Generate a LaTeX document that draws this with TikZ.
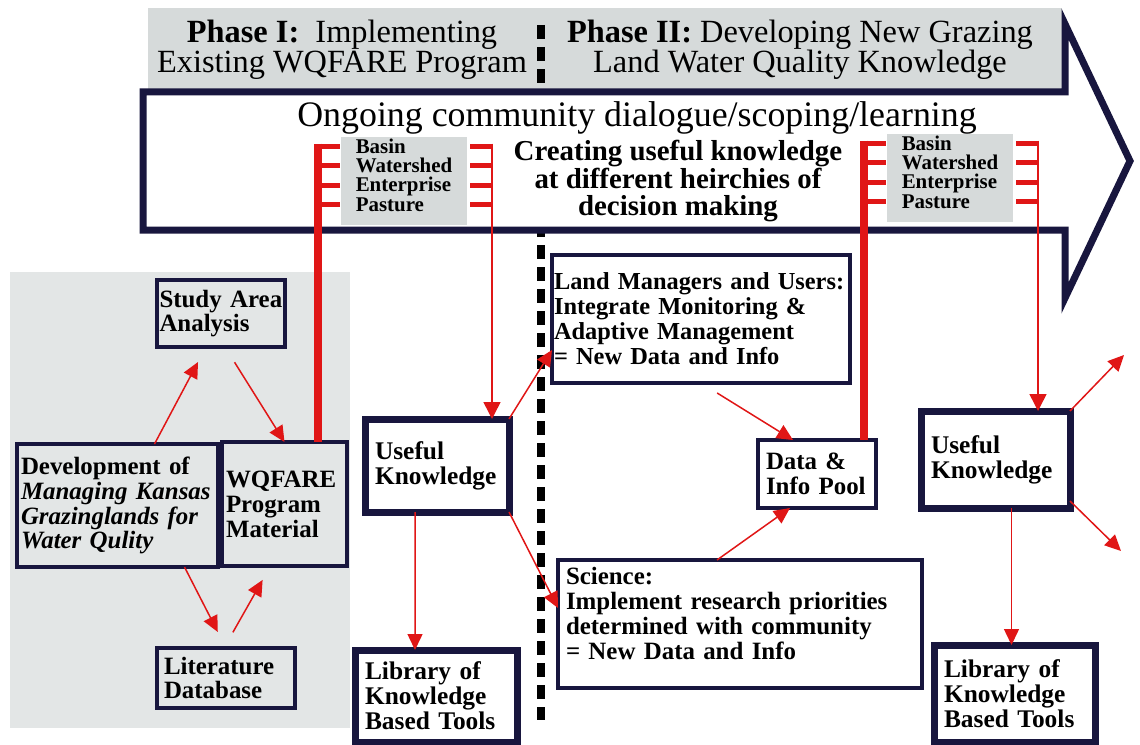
\documentclass[tikz,border=0pt]{standalone}
\usepackage{fontspec}
\setmainfont{Liberation Serif}
\usetikzlibrary{arrows.meta}
\definecolor{navy}{RGB}{24,22,62}
\definecolor{lred}{RGB}{224,22,22}
\definecolor{bangray}{RGB}{214,218,218}
\definecolor{pangray}{RGB}{227,230,230}
\begin{document}
\begin{tikzpicture}[x=1bp,y=-1bp,
    box/.style={draw=navy,line width=3.5bp,outer sep=0pt,anchor=north west,align=left,inner sep=4bp,font=\bfseries\fontsize{25}{25}\selectfont},
    bigbox/.style={box,line width=7bp,inner xsep=10bp,font=\bfseries\fontsize{25.5}{25}\selectfont},
    lvl/.style={fill=bangray,outer sep=0pt,anchor=north west,align=left,inner xsep=11bp,inner ysep=0pt,minimum width=126bp,minimum height=88bp,font=\bfseries\fontsize{21}{19.5}\selectfont},
    arr/.style={draw=lred,line width=1.5bp,-{Triangle[length=16bp,width=15bp]}},
    wire/.style={draw=lred,line width=1.5bp,-{Triangle[length=17bp,width=17bp]}},
    bar/.style={draw=lred,line width=8bp},
    tick/.style={draw=lred,line width=5bp}]
    \useasboundingbox (0,0) rectangle (1140,745);
    \fill[pangray] (10,272) rectangle (350,728);
    \fill[bangray] (148,8) rectangle (1062,92);
    \node[font=\fontsize{32.5}{30}\selectfont,align=center,inner sep=0pt] (ph1) at (342,50) {\textbf{Phase I:}\ \ Implementing\\Existing WQFARE Program};
    \node[font=\fontsize{32.5}{30}\selectfont,align=center,inner sep=0pt] (ph2) at (800,50) {\textbf{Phase II:} Developing New Grazing\\Land Water Quality Knowledge};
    \draw[line width=8bp,dash pattern=on 14bp off 8bp] (541,25) -- (541,720);
    \draw[navy,fill=white,line width=7bp] (143,92) -- (1065,92) -- (1065,24) -- (1130,161) -- (1065,298) -- (1065,230) -- (143,230) -- cycle;
    \node[font=\fontsize{36}{36}\selectfont,anchor=base,inner sep=0pt] (talk) at (637,126) {Ongoing community dialogue/scoping/learning};
    \node[font=\bfseries\fontsize{29}{26.5}\selectfont,align=center,anchor=base,inner sep=0pt] (make) at (678,215) {Creating useful knowledge\\at different heirchies of\\decision making};
    \node[lvl] (lv1) at (341,137) {Basin\\Watershed\\Enterprise\\Pasture\rule[-12bp]{0pt}{0pt}};
    \node[lvl] (lv2) at (887,134) {Basin\\Watershed\\Enterprise\\Pasture\rule[-12bp]{0pt}{0pt}};

    \node[box,inner xsep=2.5bp,minimum width=128bp,text width=123bp,minimum height=67bp] (study) at (157,280) {Study Area\\Analysis};
    \node[box,minimum width=201bp,text width=193bp,minimum height=123bp] (dev) at (17,444) {Development of\\\textit{Managing Kansas}\\\textit{Grazinglands for}\\\textit{Water Qulity}};
    \node[box,minimum width=125bp,text width=117bp,minimum height=124bp] (wqfare) at (222,442) {WQFARE\\Program\\Material};
    \node[box,inner xsep=7bp,minimum width=138bp,text width=124bp,minimum height=60bp] (lit) at (157,648) {Literature\\Database};
    \node[bigbox,minimum width=144bp,text width=124bp,minimum height=93bp] (ukl) at (365,419) {Useful\\Knowledge};
    \node[bigbox,minimum width=162bp,text width=142bp,minimum height=92bp] (libl) at (355,650) {Library of\\Knowledge\\Based Tools};
    \node[box,inner xsep=2bp,font=\bfseries\fontsize{24.5}{25}\selectfont,minimum width=298bp,text width=294bp,minimum height=128bp] (lm) at (552,255) {Land Managers and Users:\\Integrate Monitoring \&\\Adaptive Management\\= New Data and Info};
    \node[box,inner xsep=8bp,minimum width=118bp,text width=102bp,minimum height=68bp] (data) at (758,440) {Data \&\\Info Pool};
    \node[box,inner xsep=8bp,minimum width=364bp,text width=348bp,minimum height=128bp] (sci) at (558,560) {Science:\\Implement research priorities\\determined with community\\= New Data and Info\rule[-21bp]{0pt}{0pt}};
    \node[bigbox,minimum width=149bp,text width=129bp,minimum height=97bp] (ukr) at (921,411) {Useful\\Knowledge};
    \node[bigbox,minimum width=161bp,text width=141bp,minimum height=97bp] (libr) at (934,645) {Library of\\Knowledge\\Based Tools};

    \coordinate (t1) at (318,143.5);
    \coordinate (t2) at (492,143.5);
    \coordinate (t3) at (864,140.5);
    \coordinate (t4) at (1038,140.5);
    \path[bar] (t1) -- (t1 |- wqfare.north);
    \path[bar] (t3) -- (t3 |- data.north);
    \path[wire] (t2) -- (t2 |- ukl.north);
    \path[wire] (t4) -- (t4 |- ukr.north);
    \foreach \ty in {146,165,185,204} {
        \path[tick] (318,\ty) -- ++(22,0);
        \path[tick] (492,\ty) -- ++(-22,0);
        \path[tick] (864,\ty-3) -- ++(22,0);
        \path[tick] (1038,\ty-3) -- ++(-22,0);
    }

    \coordinate (o1) at (1124,355);
    \coordinate (o2) at (1121,551);
    \path[arr,shorten >=17bp] ([xshift=37bp]dev.north) -- ([xshift=-15bp]study.south);
    \path[arr,shorten <=18bp] ([xshift=4bp]study.south) -- (wqfare.north);
    \path[arr,shorten >=18bp] ([xshift=67bp]dev.south) -- (lit.north);
    \path[arr,shorten <=18bp,shorten >=16bp] ([xshift=-2bp]lit.north) -- ([xshift=-14bp]wqfare.south);
    \path[arr] (ukl.north east) -- ([yshift=-31bp]lm.west);
    \path[arr] (ukl.south east) -- ([yshift=16bp]sci.west);
    \path[arr] ([xshift=-22bp]ukl.south) -- ([xshift=-21bp]libl.north);
    \path[arr,shorten <=19bp] (lm.south) -- ([xshift=-24bp]data.north);
    \path[arr] ([xshift=-23bp]sci.north) -- ([xshift=-27bp]data.south);
    \path[arr] (ukr.north east) -- (o1);
    \path[arr] ([yshift=7bp]ukr.south east) -- (o2);
    \path[arr] ([xshift=16bp]ukr.south) -- ([xshift=16bp]ukr.south |- libr.north);
\end{tikzpicture}
\end{document}
